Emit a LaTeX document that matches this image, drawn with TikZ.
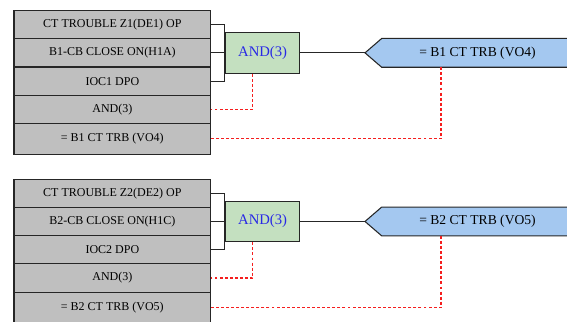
\documentclass[tikz,border=0pt]{standalone}
\usepackage{fontspec}
\setmainfont{Liberation Serif}
\usetikzlibrary{positioning}

\definecolor{andgreen}{RGB}{196,224,192}
\definecolor{outblue}{RGB}{164,200,240}
\definecolor{andtext}{RGB}{40,40,230}
\definecolor{linkred}{RGB}{245,30,30}

\tikzset{
    row/.style={draw=black!85, thick, fill=gray!50, outer sep=0pt, inner sep=0pt,
        minimum width=147.5pt, minimum height=21.2pt,
        font=\fontsize{9}{10}\selectfont},
    andbox/.style={draw=black!85, thick, fill=andgreen, text=andtext,
        minimum width=55.7pt, minimum height=30.5pt,
        font=\fontsize{11}{13}\selectfont},
    outsig/.style={draw=black!85, thick, fill=outblue},
    wire/.style={black!85, semithick},
    link/.style={linkred, line width=0.8pt, dash pattern=on 2.2pt off 1.6pt}
}

% #1 name prefix, #2 vertical offset, #3-#5 inputs, #6 output
\newcommand{\andBlock}[6]
{
    \begin{scope}[shift={(0,#2)}]
        %draws input rows
        \node[row] (#1r1) at (112.35,24.6) {#3};
        \node[row, below=0pt of #1r1] (#1r2) {#4};
        \node[row, below=0pt of #1r2] (#1r3) {#5};
        \node[row, below=0pt of #1r3] (#1r4) {AND(3)};
        \node[row, below=0pt of #1r4, minimum height=23pt] (#1r5) {#6};

        %draws gate
        \node[andbox, right=10.7pt of #1r2] (#1and) {AND(3)};
        \draw[wire] (#1r1.east) -- ++(13.6,0) |- (#1r3.east);
        \draw[wire] (#1r2.east) -- (#1r2.east -| #1and.west);

        %draws output
        \coordinate (#1tip) at (#1and.east -| 365,0);
        \draw[outsig] (#1tip) -- ++(16.7,-14.4) -- ++(230,0)
            -- ++(0,28.8) -- ++(-230,0) -- cycle;
        \coordinate (#1drop) at ([shift={(76,14.4)}]#1tip);
        \node[font=\fontsize{10.2}{12}\selectfont] (#1out)
            at ([shift={(112.5,0)}]#1tip) {#6};
        \draw[wire] (#1and.east) -- (#1tip);

        %draws feedback links
        \draw[link] ([xshift=-7.4pt]#1and.south) |- (#1r4.east);
        \draw[link] (#1drop) |- (#1r5.east);
    \end{scope}
}

\begin{document}
\begin{tikzpicture}[x=0.75pt, y=-0.75pt]

    \useasboundingbox (0,0) rectangle (567,321);

    \andBlock{a}{0}{CT TROUBLE Z1(DE1) OP}{B1-CB CLOSE ON(H1A)}{IOC1 DPO}{= B1 CT TRB (VO4)}

    \andBlock{b}{168.6}{CT TROUBLE Z2(DE2) OP}{B2-CB CLOSE ON(H1C)}{IOC2 DPO}{= B2 CT TRB (VO5)}

\end{tikzpicture}
\end{document}
